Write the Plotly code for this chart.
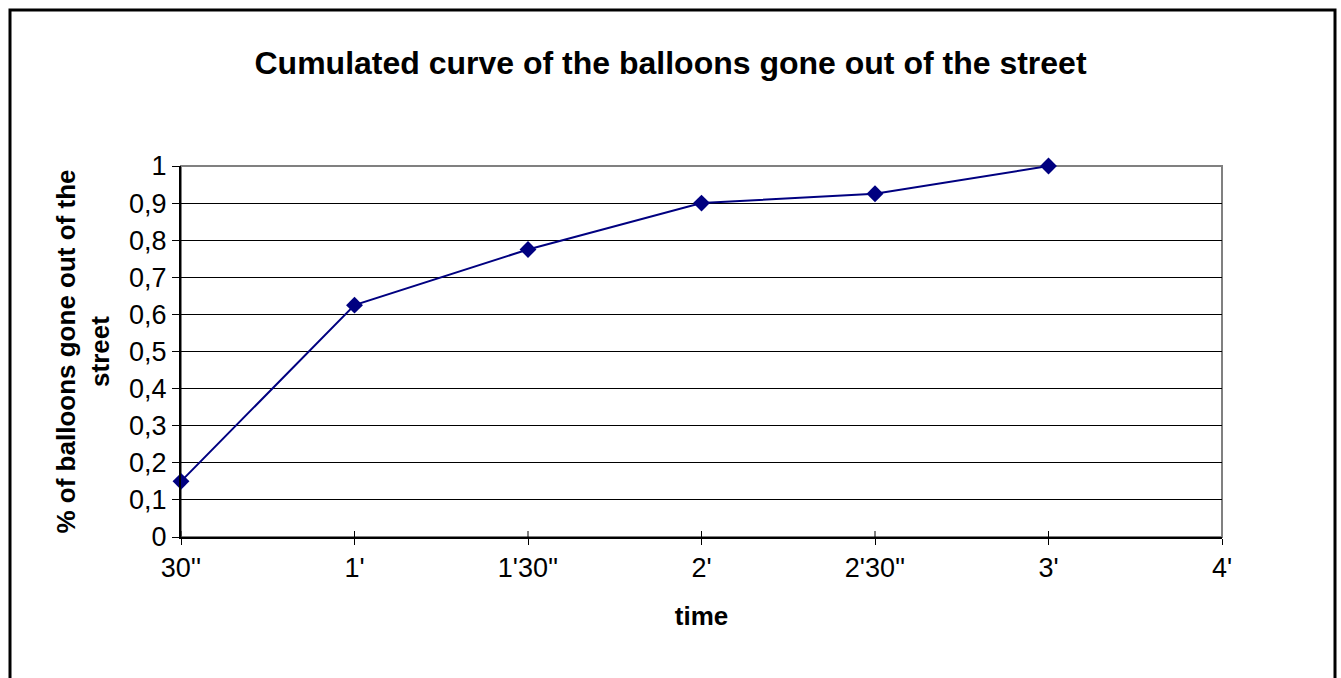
import plotly.graph_objects as go

# Elapsed-time categories and cumulative share of balloons gone out of the street
time_labels = ["30''", "1'", "1'30''", "2'", "2'30''", "3'", "4'"]
share_out = [0.15, 0.625, 0.775, 0.9, 0.925, 1.0, None]
y_ticks = [0, 0.1, 0.2, 0.3, 0.4, 0.5, 0.6, 0.7, 0.8, 0.9, 1.0]
y_tick_text = ["0", "0,1", "0,2", "0,3", "0,4", "0,5", "0,6", "0,7", "0,8", "0,9", "1"]

W, H = 1341, 678
L, R, T, B = 181, 119, 166, 141
plot_w = W - L - R
plot_h = H - T - B

x_idx = list(range(len(time_labels)))

fig = go.Figure()
fig.add_trace(go.Scatter(
    x=x_idx, y=share_out, mode="lines+markers",
    line=dict(color="#000080", width=2),
    marker=dict(symbol="diamond", size=13, color="#000080"),
    connectgaps=False, showlegend=False, cliponaxis=False,
))

shapes = []
# gray frame of the plot area (left/bottom are overdrawn by the black axes)
shapes.append(dict(type="rect", xref="paper", yref="paper", x0=0, y0=0, x1=1, y1=1,
                   line=dict(color="#808080", width=2), layer="below"))
# tick marks rising into the plot area at each category
for i in x_idx[:-1]:
    shapes.append(dict(type="line", xref="x", yref="paper", x0=i, x1=i, y0=0, y1=6 / plot_h,
                       line=dict(color="black", width=1)))
# outer chart border
def px_x(p):
    return (p - L) / plot_w
def px_y(p):
    return (H - B - p) / plot_h
shapes.append(dict(type="rect", xref="paper", yref="paper",
                   x0=px_x(10), x1=px_x(1335), y0=px_y(H + 20), y1=px_y(10),
                   line=dict(color="black", width=3)))

fig.update_layout(
    width=W, height=H,
    margin=dict(l=L, r=R, t=T, b=B),
    paper_bgcolor="white", plot_bgcolor="white",
    font=dict(family="Liberation Sans, Arial, sans-serif", color="black", size=27),
    title=dict(text="<b>Cumulated curve of the balloons gone out of the street</b>",
               x=0.5, xref="container", xanchor="center",
               y=1 - 63 / H, yref="container", yanchor="middle",
               font=dict(size=32, color="black")),
    shapes=shapes,
    xaxis=dict(
        range=[0, len(time_labels) - 1], tickmode="array", tickvals=x_idx, ticktext=time_labels,
        showgrid=False, zeroline=False, showline=True, linecolor="black", linewidth=2,
        ticks="outside", ticklen=6, tickcolor="black", tickfont=dict(size=27),
        title=dict(text="<b>time</b>", font=dict(size=26), standoff=24),
    ),
    yaxis=dict(
        range=[0, 1], tickmode="array", tickvals=y_ticks, ticktext=y_tick_text,
        showgrid=True, gridcolor="black", gridwidth=1, zeroline=False,
        showline=True, linecolor="black", linewidth=2,
        ticks="outside", ticklen=7, tickcolor="black", tickfont=dict(size=27),
        title=dict(text="<b>% of balloons gone out of the<br>street</b>", font=dict(size=26), standoff=12),
    ),
)

fig.write_html("out.html")
